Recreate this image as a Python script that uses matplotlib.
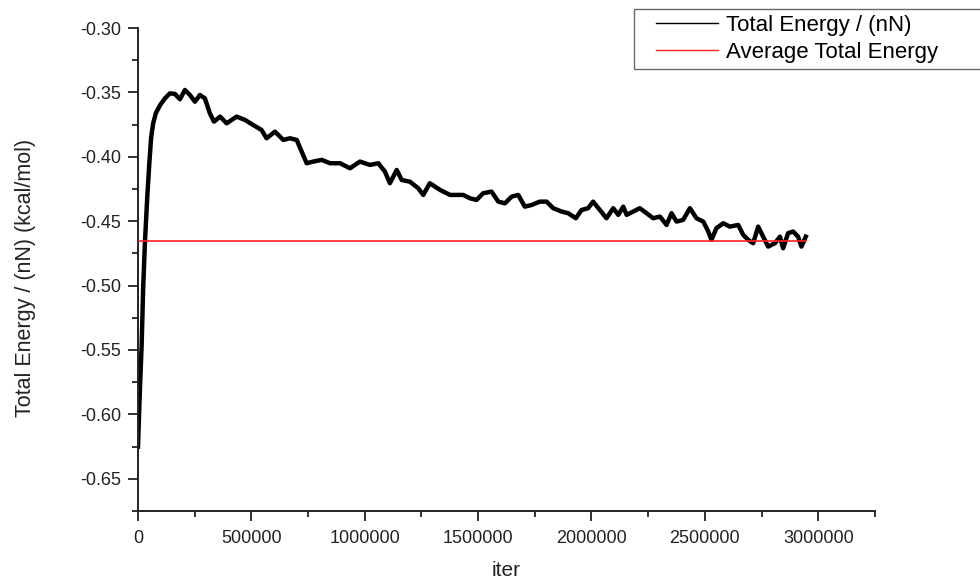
import matplotlib

matplotlib.use("Agg")
import matplotlib.pyplot as plt
from matplotlib.legend_handler import HandlerLine2D
from matplotlib.ticker import MultipleLocator

plt.rcParams["font.family"] = ["Liberation Sans", "DejaVu Sans"]

# values
iterations = [
    0, 9000, 16000, 23000, 31000, 41000, 50000, 58000, 67000, 79000, 97000,
    119000, 141000, 163000, 185000, 207000, 229000, 251000, 273000, 295000,
    317000, 335000, 362000, 391000, 435000, 472000, 508000, 545000, 567000,
    604000, 641000, 670000, 700000, 722000, 744000, 773000, 810000, 847000,
    891000, 935000, 979000, 1023000, 1060000, 1089000, 1111000, 1141000,
    1163000, 1199000, 1236000, 1258000, 1287000, 1332000, 1376000, 1405000,
    1434000, 1464000, 1493000, 1522000, 1559000, 1589000, 1618000, 1648000,
    1677000, 1706000, 1736000, 1772000, 1802000, 1831000, 1868000, 1897000,
    1931000, 1956000, 1985000, 2007000, 2037000, 2066000, 2096000, 2118000,
    2140000, 2155000, 2184000, 2213000, 2243000, 2272000, 2302000, 2331000,
    2353000, 2375000, 2404000, 2434000, 2463000, 2493000, 2515000, 2529000,
    2551000, 2581000, 2610000, 2647000, 2669000, 2691000, 2713000, 2735000,
    2757000, 2779000, 2809000, 2831000, 2845000, 2867000, 2889000, 2911000,
    2926000, 2945000,
]
total_energy = [
    -0.625, -0.578, -0.547, -0.501, -0.465, -0.431, -0.405, -0.385, -0.374,
    -0.366, -0.360, -0.3546, -0.3507, -0.3512, -0.3553, -0.3481, -0.352,
    -0.3572, -0.352, -0.3546, -0.3662, -0.3727, -0.3688, -0.374, -0.3688,
    -0.3714, -0.3753, -0.3792, -0.3856, -0.3805, -0.3869, -0.3856, -0.3869,
    -0.396, -0.405, -0.4037, -0.4024, -0.405, -0.405, -0.4089, -0.4037,
    -0.4063, -0.405, -0.4115, -0.4205, -0.4102, -0.418, -0.4193, -0.4244,
    -0.4296, -0.4205, -0.4257, -0.4296, -0.4296, -0.4296, -0.4322, -0.4335,
    -0.4283, -0.427, -0.4348, -0.4361, -0.4309, -0.4296, -0.4387, -0.4374,
    -0.4348, -0.4348, -0.4399, -0.4425, -0.4438, -0.4477, -0.4413, -0.4399,
    -0.4348, -0.4413, -0.4477, -0.4399, -0.4451, -0.4387, -0.4451, -0.4425,
    -0.4399, -0.4438, -0.4477, -0.4464, -0.4529, -0.4438, -0.4503, -0.449,
    -0.4399, -0.4477, -0.4503, -0.458, -0.4645, -0.4554, -0.4516, -0.4542,
    -0.4529, -0.4606, -0.4645, -0.4671, -0.4542, -0.462, -0.4697, -0.4671,
    -0.462, -0.471, -0.4593, -0.458, -0.462, -0.4697, -0.462,
]
average_energy = -0.4654

fig = plt.figure(figsize=(9.8, 5.8), dpi=100)
ax = fig.add_axes([0.1408, 0.119, 0.752, 0.8327])

ax.plot(iterations, total_energy, color="black", linewidth=3.2,
        label="Total Energy / (nN)", zorder=2)
ax.plot([iterations[0], iterations[-1]], [average_energy, average_energy],
        color="#ff2020", linewidth=1.2, label="Average Total Energy", zorder=3)

ax.set_xlim(0, 3250000)
ax.set_ylim(-0.675, -0.30)
ax.xaxis.set_major_locator(MultipleLocator(500000))
ax.xaxis.set_minor_locator(MultipleLocator(250000))
ax.yaxis.set_major_locator(MultipleLocator(0.05))
ax.yaxis.set_minor_locator(MultipleLocator(0.025))
ax.xaxis.set_major_formatter(plt.FuncFormatter(lambda v, p: f"{int(round(v))}"))
ax.yaxis.set_major_formatter(plt.FuncFormatter(lambda v, p: f"{v:.2f}"))

for side in ("top", "right"):
    ax.spines[side].set_visible(False)
for side in ("left", "bottom"):
    ax.spines[side].set_linewidth(1.4)
    ax.spines[side].set_color("#222222")
ax.tick_params(which="major", direction="out", length=7, width=1.3,
               labelsize=13, colors="#222222")
ax.tick_params(which="minor", direction="out", length=4, width=1.3,
               colors="#222222")
ax.tick_params(axis="x", which="major", pad=6.5)
ax.tick_params(axis="y", which="major", pad=5)

ax.set_xlabel("iter", fontsize=15, labelpad=10, color="#222222")
ax.set_ylabel("Total Energy / (nN) (kcal/mol)", fontsize=15.5, color="#222222")
ax.yaxis.set_label_coords(-0.138, 0.482)

# leading gap before the legend sample lines, like the original
pad_handler = HandlerLine2D(xpad=0.75)
leg = ax.legend(loc="upper left", bbox_to_anchor=(634 / 980, 1 - 9 / 580, 420 / 980, 0),
                bbox_transform=fig.transFigure, mode="expand", fontsize=16,
                frameon=True, fancybox=False, handlelength=3.55,
                handletextpad=0.35, labelspacing=0.3, borderpad=0.25,
                borderaxespad=0,
                handler_map={ax.lines[0]: pad_handler, ax.lines[1]: pad_handler})
leg.get_frame().set_edgecolor("#444444")
leg.get_frame().set_linewidth(1.0)
for line in leg.get_lines():
    line.set_linewidth(1.0)

fig.savefig("out.png", dpi=100)
